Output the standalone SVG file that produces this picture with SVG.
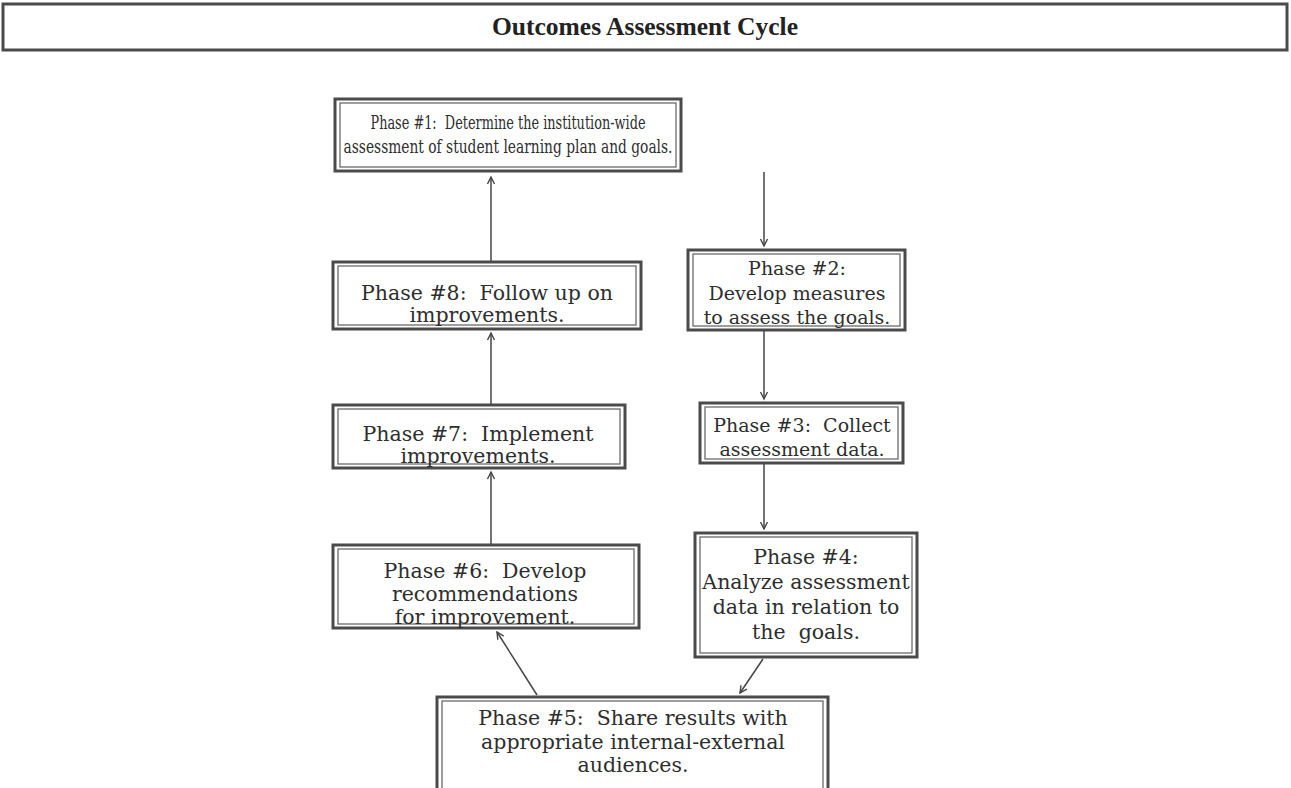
<svg xmlns="http://www.w3.org/2000/svg" width="1291" height="788" viewBox="0 0 1291 788">
  <defs>
    <marker id="ah" markerWidth="10" markerHeight="10" refX="8" refY="5" orient="auto" markerUnits="userSpaceOnUse">
      <path d="M1,1.5 L8,5 L1,8.5" fill="none" stroke="#444" stroke-width="1.4"/>
    </marker>
  </defs>
  <style>
    .outer { fill: #fff; stroke: #4a4a4a; stroke-width: 3; }
    .inner { fill: none; stroke: #6a6a6a; stroke-width: 1.3; }
    .txt { font-family: "DejaVu Serif", "Liberation Serif", serif; font-size: 20.5px; fill: #2e2e2e; text-anchor: middle; }
    .small { font-size: 18.5px; }
    .mid { font-size: 19px; }
    .title { font-family: "Liberation Serif", serif; font-size: 25.5px; font-weight: bold; fill: #222; text-anchor: middle; }
    .conn { stroke: #444; stroke-width: 1.5; fill: none; marker-end: url(#ah); }
  </style>

  <!-- title banner -->
  <g id="title">
    <rect class="outer" x="3" y="4" width="1284" height="46"/>
    <text class="title" x="645" y="35">Outcomes Assessment Cycle</text>
  </g>

  <!-- phase boxes -->
  <g id="phase1">
    <rect class="outer" x="335" y="99" width="346" height="72"/>
    <rect class="inner" x="340" y="103" width="336" height="64"/>
    <text class="txt small" x="508" y="129" textLength="275" lengthAdjust="spacingAndGlyphs">Phase #1:&#160; Determine the institution-wide</text>
    <text class="txt small" x="508" y="153" textLength="329" lengthAdjust="spacingAndGlyphs">assessment of student learning plan and goals.</text>
  </g>

  <g id="phase2">
    <rect class="outer" x="688" y="250" width="217" height="80"/>
    <rect class="inner" x="693" y="254" width="207" height="72"/>
    <text class="txt mid" x="797" y="275">Phase #2:</text>
    <text class="txt mid" x="797" y="300">Develop measures</text>
    <text class="txt mid" x="797" y="324">to assess the goals.</text>
  </g>

  <g id="phase3">
    <rect class="outer" x="700" y="403" width="203" height="60"/>
    <rect class="inner" x="705" y="407" width="193" height="52"/>
    <text class="txt mid" x="802" y="432">Phase #3:&#160; Collect</text>
    <text class="txt mid" x="802" y="456">assessment data.</text>
  </g>

  <g id="phase4">
    <rect class="outer" x="695" y="533" width="222" height="124"/>
    <rect class="inner" x="700" y="537" width="212" height="116"/>
    <text class="txt" x="806" y="564">Phase #4:</text>
    <text class="txt" x="806" y="589">Analyze assessment</text>
    <text class="txt" x="806" y="614">data in relation to</text>
    <text class="txt" x="806" y="639">the&#160; goals.</text>
  </g>

  <g id="phase5">
    <rect class="outer" x="437" y="697" width="391" height="100"/>
    <rect class="inner" x="442" y="701" width="381" height="100"/>
    <text class="txt" x="633" y="725">Phase #5:&#160; Share results with</text>
    <text class="txt" x="633" y="749">appropriate internal-external</text>
    <text class="txt" x="633" y="772">audiences.</text>
  </g>

  <g id="phase6">
    <rect class="outer" x="333" y="545" width="306" height="83"/>
    <rect class="inner" x="338" y="549" width="296" height="75"/>
    <text class="txt" x="485" y="578">Phase #6:&#160; Develop</text>
    <text class="txt" x="485" y="601">recommendations</text>
    <text class="txt" x="485" y="624">for improvement.</text>
  </g>

  <g id="phase7">
    <rect class="outer" x="333" y="405" width="292" height="63"/>
    <rect class="inner" x="338" y="409" width="282" height="55"/>
    <text class="txt" x="478" y="441">Phase #7:&#160; Implement</text>
    <text class="txt" x="478" y="463">improvements.</text>
  </g>

  <g id="phase8">
    <rect class="outer" x="333" y="262" width="308" height="67"/>
    <rect class="inner" x="338" y="266" width="298" height="59"/>
    <text class="txt" x="487" y="300">Phase #8:&#160; Follow up on</text>
    <text class="txt" x="487" y="322">improvements.</text>
  </g>

  <!-- connectors -->
  <g id="connectors">
    <line class="conn" x1="764" y1="172" x2="764" y2="246"/>
    <line class="conn" x1="764" y1="331" x2="764" y2="399"/>
    <line class="conn" x1="764" y1="464" x2="764" y2="529"/>
    <line class="conn" x1="763" y1="659" x2="740" y2="693"/>
    <line class="conn" x1="537" y1="695" x2="497" y2="632"/>
    <line class="conn" x1="491" y1="544" x2="491" y2="472"/>
    <line class="conn" x1="491" y1="404" x2="491" y2="333"/>
    <line class="conn" x1="491" y1="261" x2="491" y2="177"/>
  </g>
</svg>
